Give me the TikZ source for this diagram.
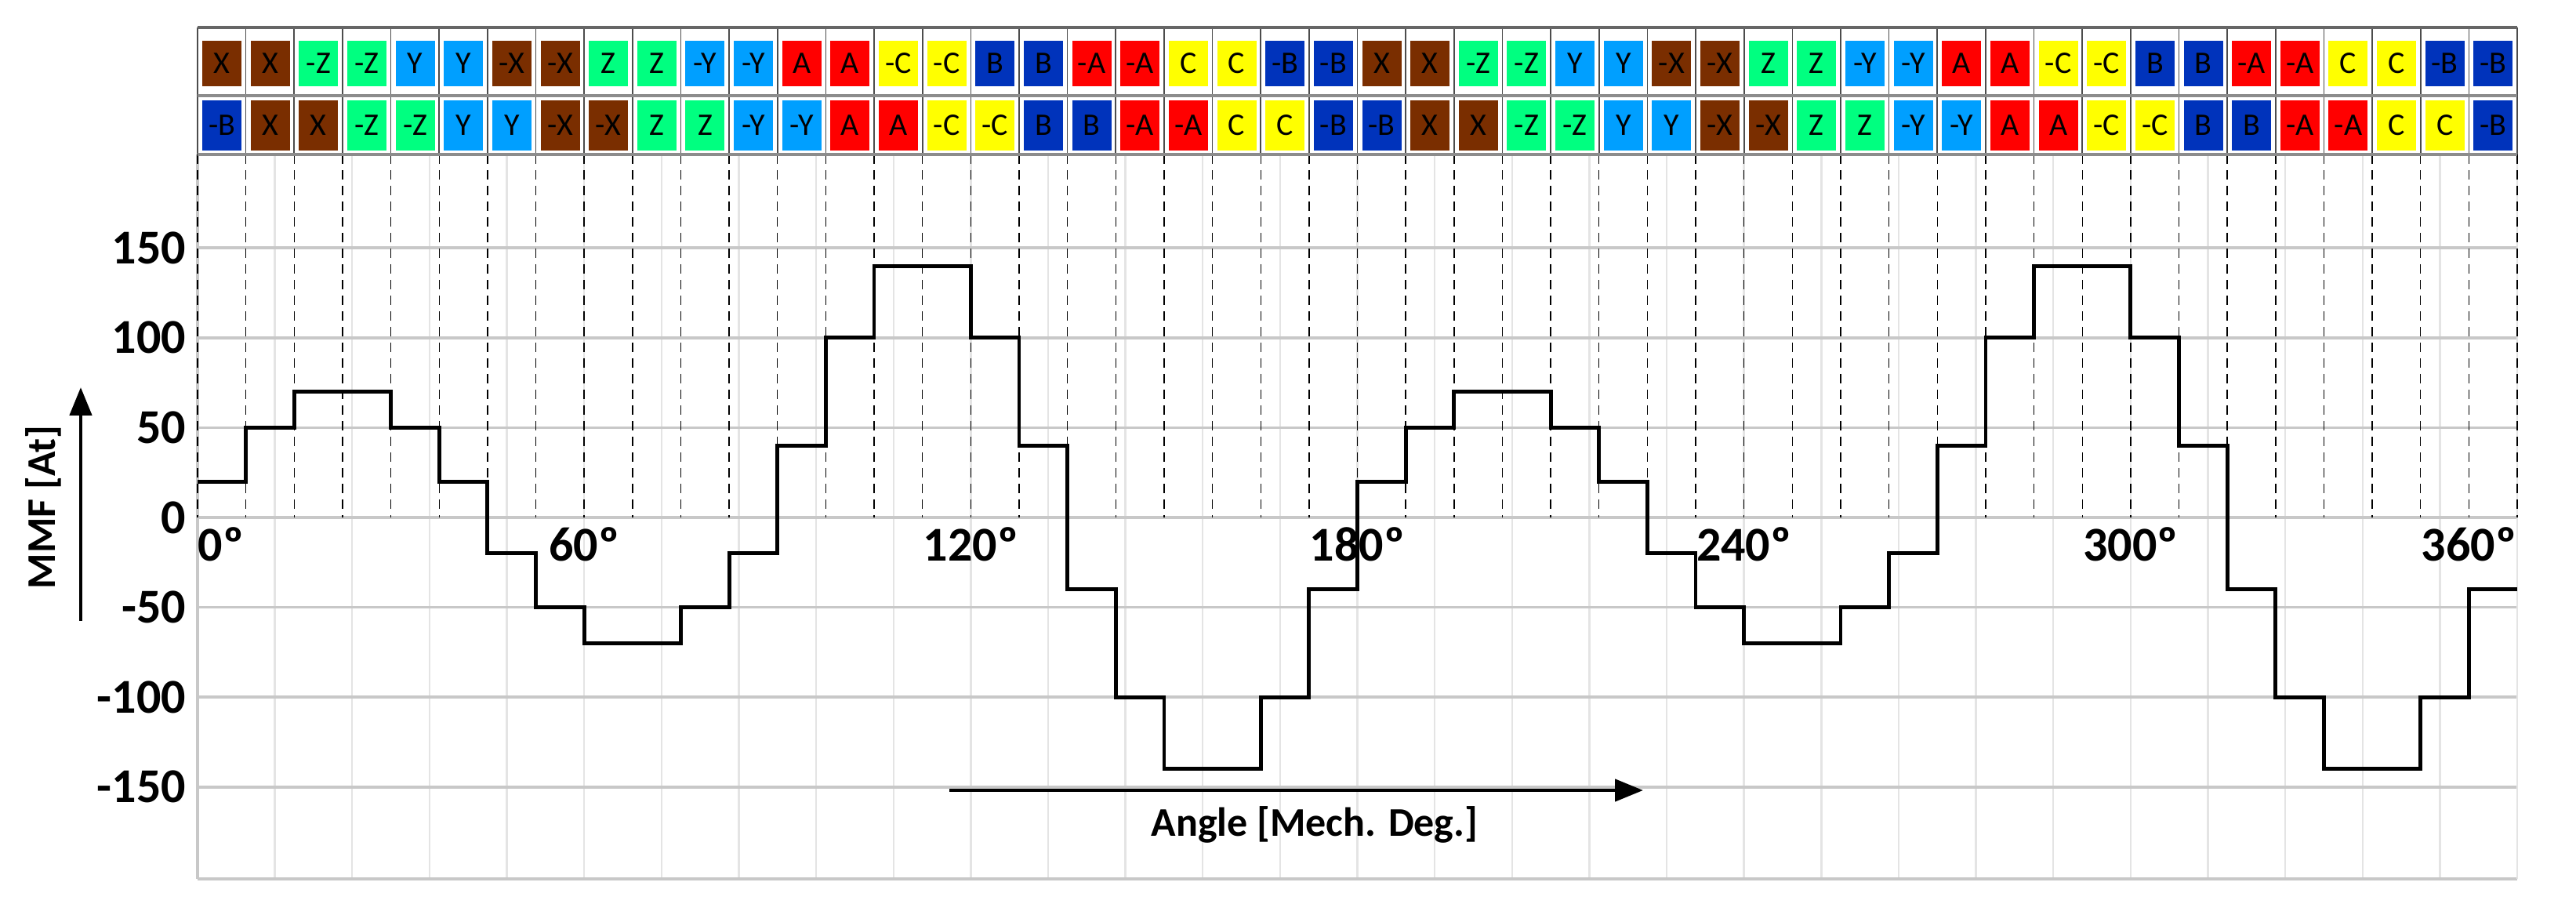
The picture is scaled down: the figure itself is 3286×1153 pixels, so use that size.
\documentclass[tikz,border=0pt]{standalone}
\usepackage{fontspec}
\setmainfont{Carlito}
\usetikzlibrary{arrows.meta}
\definecolor{brn}{HTML}{7A2E00}
\definecolor{grn}{HTML}{00FF80}
\definecolor{lbl}{HTML}{009FFF}
\definecolor{red}{HTML}{FF0000}
\definecolor{yel}{HTML}{FFFF00}
\definecolor{dbl}{HTML}{0033BB}
\definecolor{grid}{HTML}{C8C8C8}
\definecolor{vgrid}{HTML}{E4E4E4}
\tikzset{
  wave/.style={line width=1.2pt, black, line join=miter},
  hgrid/.style={line width=0.9pt, grid},
  vgridl/.style={line width=0.6pt, vgrid},
  slotline/.style={line width=0.35pt, black, dash pattern=on 3pt off 2pt},
  ticklab/.style={font=\fontsize{15.5}{16}\selectfont\bfseries, inner sep=0pt},
  boxlab/.style={font=\fontsize{10}{11}\selectfont, inner sep=0pt},
  axtitle/.style={font=\fontsize{13}{14}\selectfont\bfseries, inner sep=0pt},
}
\def\slotlist{X/brn,X/brn,-Z/grn,-Z/grn,Y/lbl,Y/lbl,-X/brn,-X/brn,Z/grn,Z/grn,-Y/lbl,-Y/lbl,A/red,A/red,-C/yel,-C/yel,B/dbl,B/dbl,-A/red,-A/red,C/yel,C/yel,-B/dbl,-B/dbl}
\begin{document}
\begin{tikzpicture}[x=0.25pt,y=-0.25pt]
\useasboundingbox (0,0) rectangle (3286,1153);
\fill[white] (0,0) rectangle (3286,1153);
% vertical light grid every 12 deg
\foreach \k in {1,...,29} \draw[vgridl] ({252+2959/30*\k},197) -- ({252+2959/30*\k},1121);
% horizontal grid
\foreach \v in {-150,-100,-50,0,50,100,150} \draw[hgrid] (252,{660-2.292*\v}) -- (3211,{660-2.292*\v});
\draw[hgrid] (252,1121) -- (3211,1121);
\draw[hgrid] (252,197) -- (252,1121);
\draw[vgridl] (3211,197) -- (3211,1121);
% slot dashed lines
\foreach \k in {0,...,48} \draw[slotline] ({252+61.646*\k},197) -- ({252+61.646*\k},660);
% table boxes
\foreach \lab/\col [count=\i from 0] in \slotlist {
  \foreach \h in {0,24} {
    \pgfmathsetmacro\xa{252+61.646*(\i+\h)}
    \fill[\col] (\xa+6,52) rectangle (\xa+56,110);
    \node[boxlab] (t\i-\h) at (\xa+31,81) {\ifx\lab\xlab{\fontsize{14}{14}\selectfont\bfseries -X}\else\lab\fi};
    \pgfmathtruncatemacro\jj{mod(\i+\h+1,48)}
    \pgfmathsetmacro\xb{252+61.646*\jj}
    \fill[\col] (\xb+6,128) rectangle (\xb+56,192);
    \node[boxlab] (b\i-\h) at (\xb+31,160) {\ifx\lab\xlab{\fontsize{14}{14}\selectfont\bfseries -X}\else\lab\fi};
  }
}
\foreach \k in {0,...,48} \draw[line width=0.4pt, black!70] ({252+61.646*\k},35) -- ({252+61.646*\k},197);
\draw[line width=0.8pt, black!60] (252,35) -- (3211,35);
\draw[line width=0.8pt, black!45] (252,122) -- (3211,122);
\draw[line width=0.8pt, black!45] (252,197) -- (3211,197);
% waveform
\draw[wave] (252,{660-2.292*20})
 \foreach \v [count=\i] in {20,50,70,70,50,20,-20,-50,-70,-70,-50,-20,40,100,140,140,100,40,-40,-100,-140,-140,-100,-40,20,50,70,70,50,20,-20,-50,-70,-70,-50,-20,40,100,140,140,100,40,-40,-100,-140,-140,-100,-40}
 { -- ({252+61.646*(\i-1)},{660-2.292*\v}) -- ({252+61.646*\i},{660-2.292*\v}) };
% y tick labels
\foreach \v in {-150,-100,-50,0,50,100,150} \node[ticklab, anchor=east] (y\v) at (238,{660-2.292*\v}) {\v};
% angle labels
\node[ticklab, anchor=west] (a0) at (252,694) {0º};
\foreach \d in {60,120,180,240,300} \node[ticklab] (a\d) at ({252+2959/360*\d},694) {\d º};
\node[ticklab, anchor=east] (a360) at (3211,694) {360º};
% axis titles
\coordinate (ya) at (103,792);
\coordinate (yb) at (103,494);
\draw[line width=1.2pt, -{Triangle[length=9pt,width=7pt]}] (ya) -- (yb);
\node[axtitle, rotate=90] (ytitle) at (55,647) {MMF [At]};
\coordinate (xa) at (1211,1008);
\coordinate (xb) at (2096,1008);
\draw[line width=1.2pt, -{Triangle[length=9pt,width=7pt]}] (xa) -- (xb);
\node[axtitle] (xtitle) at (1677,1052) {Angle [Mech. Deg.]};
\end{tikzpicture}
\end{document}
